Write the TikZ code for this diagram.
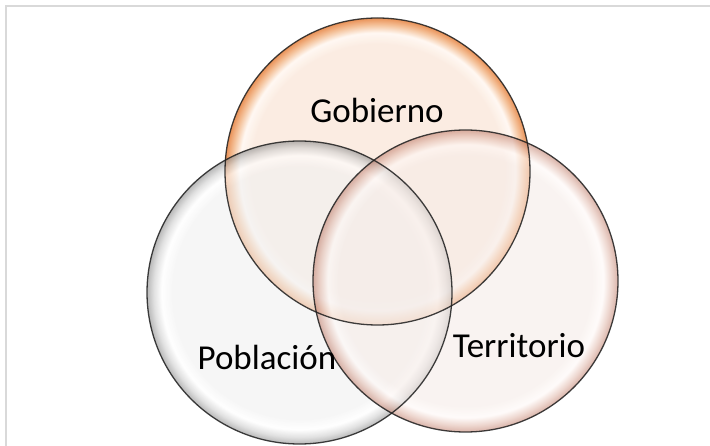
\documentclass[tikz,border=0pt]{standalone}
\usepackage{fontspec}
\setmainfont{Carlito}
\definecolor{Gin}{HTML}{FBEBE0}
\definecolor{Ghi}{HTML}{FFF8F2}
\definecolor{Gmid}{HTML}{F4BD92}
\definecolor{Gout}{HTML}{E8894A}
\definecolor{Pin}{HTML}{F1F1F1}
\definecolor{Phi}{HTML}{FFFFFF}
\definecolor{Pmid}{HTML}{CFCFCF}
\definecolor{Pout}{HTML}{8E8E8E}
\definecolor{Tin}{HTML}{F6ECE8}
\definecolor{Thi}{HTML}{FFF9F7}
\definecolor{Tmid}{HTML}{E2BBAE}
\definecolor{Tout}{HTML}{C07E6C}
\definecolor{framegray}{HTML}{D9D9D9}
\definecolor{rim}{HTML}{1E1E1E}
\pgfdeclareradialshading{shadeG}{\pgfpoint{0bp}{0bp}}{color(0bp)=(Gin);color(20.8bp)=(Gin);color(22.6bp)=(Ghi);color(23.9bp)=(Gmid);color(25bp)=(Gout);color(50bp)=(Gout)}
\pgfdeclareradialshading{shadeP}{\pgfpoint{0bp}{0bp}}{color(0bp)=(Pin);color(20.8bp)=(Pin);color(22.6bp)=(Phi);color(23.9bp)=(Pmid);color(25bp)=(Pout);color(50bp)=(Pout)}
\pgfdeclareradialshading{shadeT}{\pgfpoint{0bp}{0bp}}{color(0bp)=(Tin);color(20.8bp)=(Tin);color(22.6bp)=(Thi);color(23.9bp)=(Tmid);color(25bp)=(Tout);color(50bp)=(Tout)}
\begin{document}
\begin{tikzpicture}[x=1pt,y=-1pt,
  bubble/.style={fill opacity=0.62},
  rimline/.style={draw=rim, line width=1.3pt, draw opacity=0.85},
  label/.style={anchor=base, inner sep=0pt, text=black, font=\fontsize{35}{42}\selectfont},
  frameline/.style={draw=framegray, line width=2pt}]
\useasboundingbox (0,0) rectangle (710,446);
\fill[white] (0,0) rectangle (710,446);
\draw[frameline] (6,446) -- (6,6) -- (710,6);
% circles
\shade[bubble, shading=shadeG, fill opacity=0.92] (377.5,171.5) ellipse [x radius=152.5, y radius=153.5];
\shade[bubble, shading=shadeP] (299.5,292.5) ellipse [x radius=152.5, y radius=151.5];
\shade[bubble, shading=shadeT, fill opacity=0.58] (465.5,281) ellipse [x radius=152.5, y radius=151];
% outlines
\draw[rimline] (377.5,171.5) ellipse [x radius=152.5, y radius=153.5];
\draw[rimline] (299.5,292.5) ellipse [x radius=152.5, y radius=151.5];
\draw[rimline] (465.5,281) ellipse [x radius=152.5, y radius=151];
% labels
\node[label] (gob) at (377,123) {Gobierno};
\node[label] (pob) at (267,370) {Población};
\node[label] (ter) at (519,358) {Territorio};
\end{tikzpicture}
\end{document}
